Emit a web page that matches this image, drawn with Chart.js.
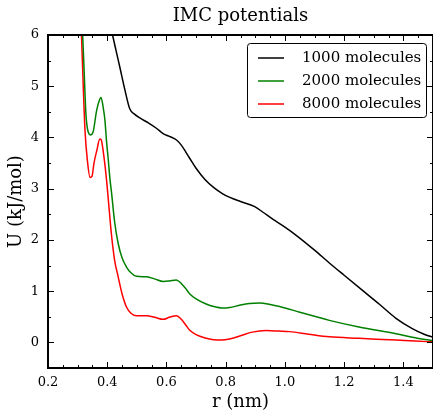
<!DOCTYPE html>
<html>
<head>
<meta charset="utf-8">
<script src="https://cdn.jsdelivr.net/npm/chart.js@4/dist/chart.umd.min.js"></script>
<style>
  html, body { margin: 0; padding: 0; background: #fff; }
  #wrap { width: 433px; height: 411px; }
</style>
</head>
<body>
<div id="wrap"><canvas id="c" width="433" height="411"></canvas></div>
<script>
// ---- data ----
const seriesLabels = ['1000 molecules', '2000 molecules', '8000 molecules'];

const r1000 = [0.400, 0.418, 0.430, 0.443, 0.460, 0.476, 0.493, 0.510, 0.540, 0.566, 0.590, 0.610, 0.634, 0.650, 0.665, 0.680, 0.700, 0.730, 0.760, 0.790, 0.814, 0.850, 0.898, 0.926, 0.960, 1.000, 1.038, 1.100, 1.150, 1.200, 1.263, 1.320, 1.375, 1.430, 1.470, 1.500];
const u1000 = [6.50, 6.00, 5.69, 5.36, 4.92, 4.56, 4.45, 4.38, 4.28, 4.18, 4.07, 4.02, 3.95, 3.85, 3.72, 3.58, 3.40, 3.18, 3.02, 2.90, 2.83, 2.75, 2.65, 2.54, 2.40, 2.25, 2.09, 1.80, 1.55, 1.31, 1.01, 0.74, 0.47, 0.27, 0.16, 0.10];

const r2000 = [0.300, 0.317, 0.322, 0.328, 0.336, 0.344, 0.352, 0.364, 0.372, 0.379, 0.386, 0.392, 0.398, 0.403, 0.409, 0.415, 0.425, 0.437, 0.450, 0.465, 0.480, 0.499, 0.533, 0.560, 0.589, 0.610, 0.633, 0.650, 0.665, 0.678, 0.700, 0.734, 0.760, 0.791, 0.813, 0.850, 0.880, 0.915, 0.950, 0.982, 1.050, 1.150, 1.250, 1.375, 1.440, 1.500];
const u2000 = [8.00, 6.00, 5.30, 4.46, 4.10, 4.05, 4.10, 4.52, 4.70, 4.78, 4.60, 4.35, 3.90, 3.60, 3.20, 2.90, 2.35, 1.93, 1.65, 1.47, 1.36, 1.29, 1.28, 1.24, 1.19, 1.20, 1.22, 1.15, 1.05, 0.95, 0.85, 0.75, 0.70, 0.67, 0.68, 0.73, 0.76, 0.77, 0.74, 0.70, 0.59, 0.43, 0.30, 0.17, 0.09, 0.03];

const r8000 = [0.290, 0.313, 0.319, 0.325, 0.333, 0.342, 0.349, 0.355, 0.365, 0.375, 0.380, 0.386, 0.392, 0.398, 0.405, 0.414, 0.425, 0.437, 0.450, 0.465, 0.480, 0.499, 0.533, 0.560, 0.589, 0.610, 0.634, 0.650, 0.665, 0.678, 0.700, 0.735, 0.760, 0.785, 0.813, 0.850, 0.890, 0.937, 0.980, 1.016, 1.080, 1.150, 1.250, 1.375, 1.440, 1.500];
const u8000 = [8.50, 6.00, 5.00, 4.13, 3.55, 3.22, 3.25, 3.49, 3.75, 3.97, 3.95, 3.75, 3.48, 3.15, 2.70, 2.12, 1.60, 1.28, 0.95, 0.69, 0.57, 0.52, 0.52, 0.49, 0.45, 0.49, 0.52, 0.45, 0.34, 0.24, 0.15, 0.08, 0.05, 0.045, 0.065, 0.13, 0.20, 0.23, 0.22, 0.21, 0.16, 0.11, 0.08, 0.045, 0.025, 0.01];

const xTickValues = [0.2, 0.4, 0.6, 0.8, 1.0, 1.2, 1.4];
const yTickValues = [0, 1, 2, 3, 4, 5, 6];

const colors = ['#000000', '#008000', '#ff0000'];
const SERIF = "'DejaVu Serif', 'Liberation Serif', serif";

function pts(rs, us) { return rs.map((r, i) => ({ x: r, y: us[i] })); }

// inward ticks on all four sides + full frame
const frameTicks = {
  id: 'frameTicks',
  afterDatasetsDraw(chart) {
    const { ctx, chartArea: a, scales: { x, y } } = chart;
    ctx.save();
    ctx.strokeStyle = '#000';
    ctx.lineWidth = 1;
    const major = 6, minor = 3;
    for (let i = 0; i <= 26; i++) {
      const v = 0.2 + i * 0.05;
      const px = Math.round(x.getPixelForValue(v)) + 0.5;
      const isMajor = i % 4 === 0;
      const L = isMajor ? major : minor;
      ctx.beginPath();
      ctx.moveTo(px, a.bottom); ctx.lineTo(px, a.bottom - L);
      ctx.moveTo(px, a.top); ctx.lineTo(px, a.top + L);
      ctx.stroke();
    }
    for (let i = 0; i <= 13; i++) {
      const v = -0.5 + i * 0.5;
      const py = Math.round(y.getPixelForValue(v)) + 0.5;
      const isMajor = i % 2 === 1;
      const L = isMajor ? major : minor;
      ctx.beginPath();
      ctx.moveTo(a.left, py); ctx.lineTo(a.left + L, py);
      ctx.moveTo(a.right, py); ctx.lineTo(a.right - L, py);
      ctx.stroke();
    }
    ctx.lineWidth = 2;
    ctx.strokeRect(a.left, a.top, a.right - a.left, a.bottom - a.top);
    ctx.restore();
  }
};

// legend box drawn inside the plot area, upper right
const innerLegend = {
  id: 'innerLegend',
  afterDraw(chart) {
    const { ctx, chartArea: a } = chart;
    const boxR = a.right - 7, boxT = a.top + 8;
    const boxW = 179, boxH = 74;
    const boxL = boxR - boxW;
    ctx.save();
    ctx.fillStyle = '#fff';
    ctx.strokeStyle = '#000';
    ctx.lineWidth = 1;
    ctx.beginPath();
    ctx.roundRect(boxL + 0.5, boxT + 0.5, boxW, boxH, 3);
    ctx.fill();
    ctx.stroke();
    ctx.font = "15px " + SERIF;
    ctx.textBaseline = 'middle';
    ctx.textAlign = 'left';
    chart.data.datasets.forEach((ds, i) => {
      const yy = boxT + 15 + i * 23;
      ctx.strokeStyle = ds.borderColor;
      ctx.lineWidth = 1.5;
      ctx.beginPath();
      ctx.moveTo(boxL + 11, yy); ctx.lineTo(boxL + 37, yy);
      ctx.stroke();
      ctx.fillStyle = '#000';
      ctx.fillText(ds.label, boxL + 55, yy);
    });
    ctx.restore();
  }
};

new Chart(document.getElementById('c'), {
  type: 'line',
  data: {
    datasets: [
      { label: seriesLabels[0], data: pts(r1000, u1000), borderColor: colors[0] },
      { label: seriesLabels[1], data: pts(r2000, u2000), borderColor: colors[1] },
      { label: seriesLabels[2], data: pts(r8000, u8000), borderColor: colors[2] }
    ]
  },
  options: {
    responsive: false,
    animation: false,
    devicePixelRatio: 1,
    layout: { padding: { left: 0, right: 0, top: 0, bottom: 0 } },
    elements: {
      point: { radius: 0 },
      line: { borderWidth: 1.5, cubicInterpolationMode: 'monotone', fill: false }
    },
    plugins: {
      legend: { display: false },
      tooltip: { enabled: false },
      title: {
        display: true,
        fullSize: false,
        text: 'IMC potentials',
        color: '#000',
        font: { family: SERIF, size: 18, weight: 'normal', lineHeight: 1.2 },
        padding: { top: 6, bottom: 7.4 }
      }
    },
    scales: {
      x: {
        type: 'linear',
        min: 0.2, max: 1.5,
        grid: { display: false, drawTicks: false },
        border: { display: false },
        afterFit(s) { s.height = 43; },
        afterBuildTicks(s) { s.ticks = xTickValues.map(v => ({ value: v })); },
        ticks: {
          color: '#000',
          padding: 7,
          maxRotation: 0,
          font: { family: SERIF, size: 13 },
          callback: v => Number(v).toFixed(1)
        },
        title: {
          display: true, text: 'r (nm)', color: '#000',
          font: { family: SERIF, size: 18, lineHeight: 1 },
          padding: { top: 0, bottom: 0 }
        }
      },
      y: {
        type: 'linear',
        min: -0.5, max: 6,
        grid: { display: false, drawTicks: false },
        border: { display: false },
        afterFit(s) { s.width = 48; },
        afterBuildTicks(s) { s.ticks = yTickValues.map(v => ({ value: v })); },
        ticks: {
          color: '#000',
          padding: 9,
          font: { family: SERIF, size: 13 },
          callback: v => String(v)
        },
        title: {
          display: true, text: 'U (kJ/mol)', color: '#000',
          font: { family: SERIF, size: 18, lineHeight: 1 },
          padding: { top: 7, bottom: 0 }
        }
      }
    }
  },
  plugins: [frameTicks, innerLegend]
});
</script>
</body>
</html>
